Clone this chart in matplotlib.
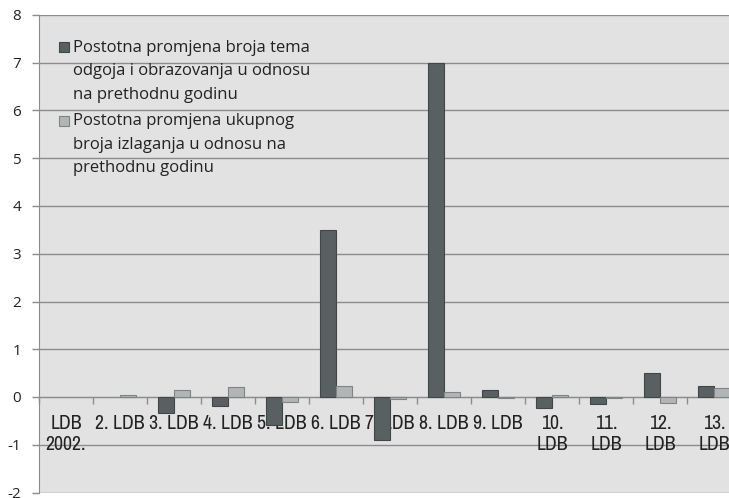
import numpy as np
import matplotlib
matplotlib.use("Agg")
import matplotlib.pyplot as plt
import matplotlib.font_manager as fm
from matplotlib.patches import Rectangle
from matplotlib.legend_handler import HandlerPatch

categories = ["LDB\n2002.", "2. LDB", "3. LDB", "4. LDB", "5. LDB", "6. LDB", "7. LDB",
              "8. LDB", "9. LDB", "10.\nLDB", "11.\nLDB", "12.\nLDB", "13.\nLDB"]
tema_change = [np.nan, np.nan, -0.33, -0.18, -0.59, 3.5, -0.9, 7.0, 0.14, -0.22, -0.14, 0.5, 0.23]
izlaganja_change = [np.nan, 0.04, 0.14, 0.2, -0.1, 0.23, -0.05, 0.11, -0.03, 0.05, -0.02, -0.12, 0.18]
series_labels = ["Postotna promjena broja tema\nodgoja i obrazovanja u odnosu\nna prethodnu godinu",
                 "Postotna promjena ukupnog\nbroja izlaganja u odnosu na\nprethodnu godinu"]
y_ticks = list(range(-2, 9))

plt.rcParams["axes.unicode_minus"] = False

# pick a narrow font for the category labels if one is installed
narrow_font = None
narrow_stretch = "normal"
for f in fm.fontManager.ttflist:
    n = f.name
    if ("Narrow" in n or "Condensed" in n) and f.weight in (400, "normal", "regular") and f.style == "normal":
        narrow_font = n
        break
if narrow_font is None:
    for f in fm.fontManager.ttflist:
        if str(f.stretch) in ("condensed", "semi-condensed") and f.weight in (400, "normal") and f.style == "normal":
            narrow_font = f.name
            narrow_stretch = f.stretch
            break
if narrow_font is not None:
    cat_font = dict(family=[narrow_font, "DejaVu Sans"], fontsize=14.2, fontstretch=narrow_stretch)
else:
    cat_font = dict(family=["Liberation Sans", "DejaVu Sans"], fontsize=11.3)

W, H = 729, 498
fig = plt.figure(figsize=(W / 100, H / 100), dpi=100)
fig.patch.set_facecolor("white")
ax = fig.add_axes([39 / W, 5.5 / H, 702 / W, 477.5 / H])
ax.set_facecolor("#e1e2e1")

x = np.arange(len(categories))
bw = 0.3
dark_c, dark_e = "#586062", "#3f4748"
light_c, light_e = "#b2b5b5", "#7f8484"
b1 = ax.bar(x - bw / 2, tema_change, bw, color=dark_c, edgecolor=dark_e, linewidth=0.8, zorder=3)
b2 = ax.bar(x + bw / 2, izlaganja_change, bw, color=light_c, edgecolor=light_e, linewidth=0.8, zorder=3)

ax.set_xlim(-0.5, len(categories) - 0.5)
ax.set_ylim(-2, 8)
ax.set_yticks(y_ticks)
ax.yaxis.grid(True, color="#8c8c8c", linewidth=1.0, zorder=0)
ax.set_axisbelow(True)
ax.tick_params(axis="y", length=5, width=1, color="#8c8c8c", pad=8, labelsize=11,
               labelcolor="#222222")
for lab in ax.get_yticklabels():
    lab.set_family("Open Sans")

for s in ["top", "right"]:
    ax.spines[s].set_visible(False)
ax.spines["left"].set_color("#8c8c8c")
ax.spines["bottom"].set_position(("data", 0))
ax.spines["bottom"].set_color("#8c8c8c")
ax.set_xticks(np.arange(0, len(categories) + 1) - 0.5)
ax.set_xticklabels([])
ax.tick_params(axis="x", direction="out", length=5, width=1, color="#8c8c8c")

for i, lab in enumerate(categories):
    ax.annotate(lab, xy=(x[i], 0), xytext=(0, -12.5), textcoords="offset points",
                ha="center", va="top", color="#222222", linespacing=1.12, zorder=2, **cat_font)


class TopHandler(HandlerPatch):
    def create_artists(self, legend, orig_handle, xdescent, ydescent, width, height, fontsize, trans):
        s = 7.2
        shift = 17.4
        p = Rectangle((-xdescent + (width - s) / 2, -ydescent + (height - s) / 2 + shift), s, s,
                      facecolor=orig_handle.patches[0].get_facecolor(),
                      edgecolor=orig_handle.patches[0].get_edgecolor(), linewidth=0.8, transform=trans)
        return [p]


leg = ax.legend([b1, b2], series_labels, loc="upper left", bbox_to_anchor=(0.019, 0.962),
                frameon=False, prop={"family": "Open Sans", "size": 12},
                handlelength=0.6, handleheight=0.8, handletextpad=0.24, labelspacing=0.62,
                borderaxespad=0, handler_map={type(b1): TopHandler()})
for t in leg.get_texts():
    t.set_linespacing(1.63)
    t.set_color("#222222")

fig.savefig("out.png", dpi=100)
